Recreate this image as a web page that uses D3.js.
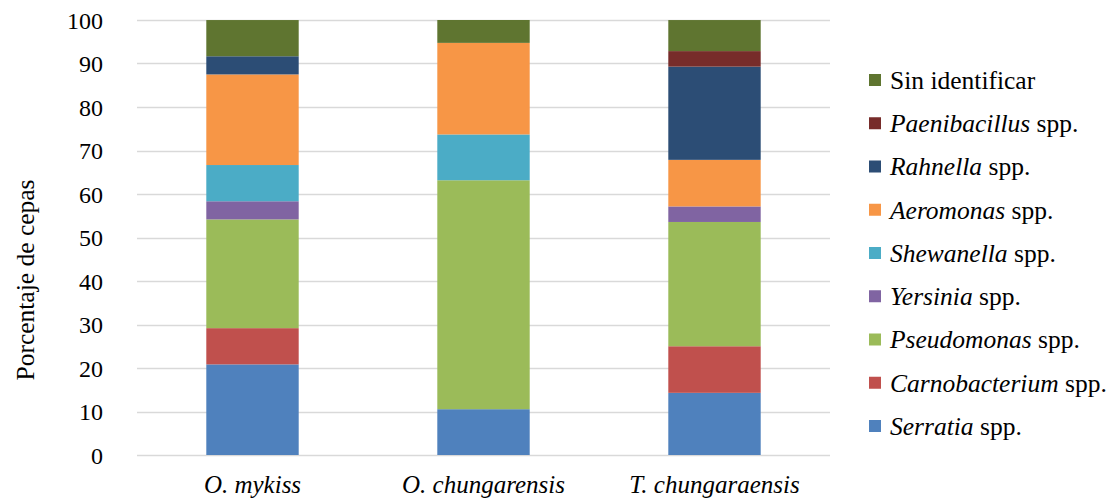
<!DOCTYPE html>
<html>
<head>
<meta charset="utf-8">
<script src="https://cdn.jsdelivr.net/npm/d3@7"></script>
<style>
  html, body { margin: 0; padding: 0; background: #ffffff; }
  svg { display: block; }
</style>
</head>
<body>
<svg id="chart" width="1120" height="499"></svg>
<script>
// Fish host species (x categories)
const categories = ["O. mykiss", "O. chungarensis", "T. chungaraensis"];

// Bacterial genera, stacked bottom to top
const genera = [
  { key: "serratia",       name: "Serratia",        italic: true,  color: "#4F81BD" },
  { key: "carnobacterium", name: "Carnobacterium",  italic: true,  color: "#C0504D" },
  { key: "pseudomonas",    name: "Pseudomonas",     italic: true,  color: "#9BBB59" },
  { key: "yersinia",       name: "Yersinia",        italic: true,  color: "#8064A2" },
  { key: "shewanella",     name: "Shewanella",      italic: true,  color: "#4BACC6" },
  { key: "aeromonas",      name: "Aeromonas",       italic: true,  color: "#F79646" },
  { key: "rahnella",       name: "Rahnella",        italic: true,  color: "#2C4D75" },
  { key: "paenibacillus",  name: "Paenibacillus",   italic: true,  color: "#772C2A" },
  { key: "sin",            name: "Sin identificar", italic: false, color: "#5F7530" }
];

// Percentage of strains per genus, one value per category
const serratia       = [20.83, 10.53, 14.29];
const carnobacterium = [ 8.33,  0.00, 10.71];
const pseudomonas    = [25.00, 52.63, 28.57];
const yersinia       = [ 4.17,  0.00,  3.57];
const shewanella     = [ 8.33, 10.53,  0.00];
const aeromonas      = [20.83, 21.05, 10.71];
const rahnella       = [ 4.17,  0.00, 21.43];
const paenibacillus  = [ 0.00,  0.00,  3.57];
const sinIdentificar = [ 8.33,  5.26,  7.14];

const yTicks = [0, 10, 20, 30, 40, 50, 60, 70, 80, 90, 100];
const yLabel = "Porcentaje de cepas";

const FONT = '"Liberation Serif", "DejaVu Serif", "Noto Serif", serif';

const seriesValues = {
  serratia, carnobacterium, pseudomonas, yersinia, shewanella,
  aeromonas, rahnella, paenibacillus, sin: sinIdentificar
};

const rows = categories.map((c, i) => {
  const r = { category: c };
  genera.forEach(g => { r[g.key] = seriesValues[g.key][i]; });
  return r;
});

const svg = d3.select("#chart").style("font-family", FONT);
const plot = { left: 137, right: 830, top: 20, bottom: 455 };

const x = d3.scaleBand()
  .domain(categories)
  .range([plot.left, plot.right])
  .paddingInner(0.6)
  .paddingOuter(0.3);

const y = d3.scaleLinear()
  .domain([0, 100])
  .range([plot.bottom, plot.top]);

// Horizontal gridlines
svg.append("g")
  .selectAll("line")
  .data(yTicks)
  .join("line")
  .attr("x1", plot.left)
  .attr("x2", plot.right)
  .attr("y1", d => Math.round(y(d)) + 0.5)
  .attr("y2", d => Math.round(y(d)) + 0.5)
  .attr("stroke", "#d9d9d9")
  .attr("stroke-width", 1.3);

// Y axis tick labels
const yAxis = d3.axisLeft(y).tickValues(yTicks).tickSize(0).tickPadding(0);
const yAxisG = svg.append("g")
  .attr("transform", `translate(103,0)`)
  .call(yAxis);
yAxisG.attr("font-family", null).attr("font-size", null);
yAxisG.select(".domain").remove();
yAxisG.selectAll("text")
  .style("font-family", FONT)
  .style("font-size", "24px")
  .attr("fill", "#000")
  .attr("dy", "0.35em");

// Stacked bars
const stack = d3.stack().keys(genera.map(g => g.key));
const layers = stack(rows);
const colorOf = d3.scaleOrdinal().domain(genera.map(g => g.key)).range(genera.map(g => g.color));

svg.append("g")
  .selectAll("g")
  .data(layers)
  .join("g")
  .attr("fill", d => colorOf(d.key))
  .selectAll("rect")
  .data(d => d.filter(s => s[1] - s[0] > 0))
  .join("rect")
  .attr("x", d => x(d.data.category))
  .attr("width", x.bandwidth())
  .attr("y", d => y(d[1]))
  .attr("height", d => y(d[0]) - y(d[1]));

// X axis category labels
const xAxis = d3.axisBottom(x).tickSize(0).tickPadding(0);
const xAxisG = svg.append("g")
  .attr("transform", `translate(0,${plot.bottom})`)
  .call(xAxis);
xAxisG.attr("font-family", null).attr("font-size", null);
xAxisG.select(".domain").remove();
xAxisG.selectAll("text")
  .style("font-family", FONT)
  .style("font-size", "25px")
  .style("font-style", "italic")
  .attr("fill", "#000")
  .attr("y", 38)
  .attr("dy", 0);

// Y axis title
svg.append("text")
  .attr("transform", "translate(34,280) rotate(-90)")
  .attr("text-anchor", "middle")
  .style("font-family", FONT)
  .style("font-size", "25.5px")
  .attr("fill", "#000")
  .text(yLabel);

// Legend (top of stack listed first)
const legend = svg.append("g");
const legendItems = genera.slice().reverse();
const li = legend.selectAll("g")
  .data(legendItems)
  .join("g")
  .attr("transform", (d, i) => `translate(869,${80 + i * 43.25})`);

li.append("rect")
  .attr("x", 0)
  .attr("y", -6)
  .attr("width", 12)
  .attr("height", 12)
  .attr("fill", d => d.color);

const lt = li.append("text")
  .attr("x", 21)
  .attr("y", 0)
  .attr("dy", "0.35em")
  .attr("fill", "#000")
  .style("font-family", FONT)
  .style("font-size", "25.5px");

lt.each(function (d) {
  const t = d3.select(this);
  if (d.italic) {
    t.append("tspan").style("font-style", "italic").text(d.name);
    t.append("tspan").text(" spp.");
  } else {
    t.append("tspan").text(d.name);
  }
});
</script>
</body>
</html>
